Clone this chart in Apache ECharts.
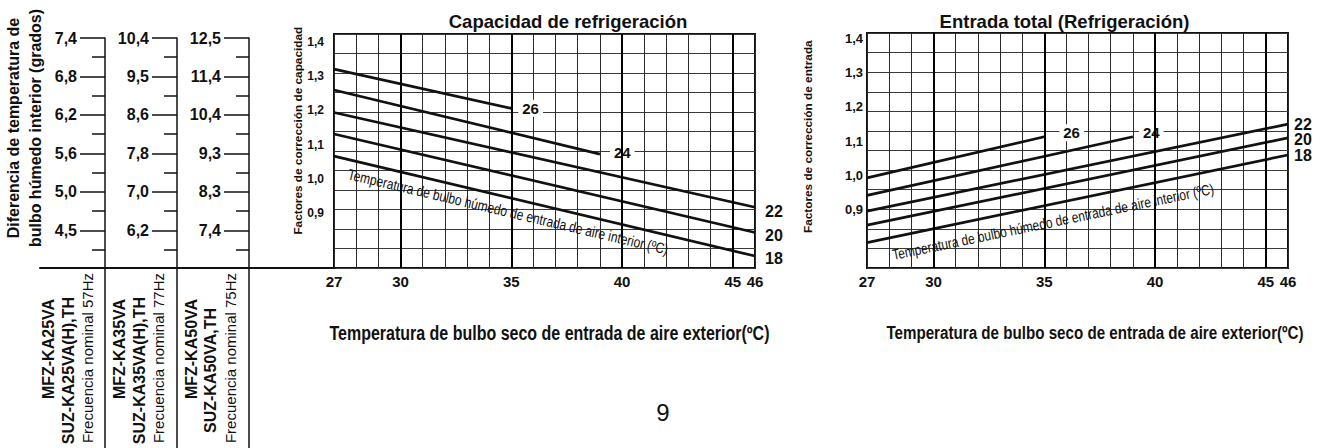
<!DOCTYPE html>
<html><head><meta charset="utf-8">
<script src="https://cdn.jsdelivr.net/npm/echarts@6/dist/echarts.min.js"></script>
<style>html,body{margin:0;padding:0;background:#fff;}#c{width:1328px;height:448px;}</style>
</head><body><div id="c"></div>
<script>
// ---------- data ----------
const xTicks = [27, 30, 35, 40, 45, 46];
const majorX = [30, 35, 40, 45];
const yTicks = [0.9, 1.0, 1.1, 1.2, 1.3, 1.4];
const wbNames = ['26', '24', '22', '20', '18'];
// Capacidad de refrigeración
const cap26 = [[27, 1.321], [35, 1.206]];
const cap24 = [[27, 1.260], [39, 1.072]];
const cap22 = [[27, 1.194], [46, 0.916]];
const cap20 = [[27, 1.131], [46, 0.842]];
const cap18 = [[27, 1.066], [46, 0.773]];
// Entrada total (Refrigeración)
const inp26 = [[27, 0.993], [35, 1.113]];
const inp24 = [[27, 0.942], [39, 1.113]];
const inp22 = [[27, 0.896], [46, 1.150]];
const inp20 = [[27, 0.855], [46, 1.110]];
const inp18 = [[27, 0.804], [46, 1.060]];
// left table
const col1Labels = ['7,4', '6,8', '6,2', '5,6', '5,0', '4,5'];
const col2Labels = ['10,4', '9,5', '8,6', '7,8', '7,0', '6,2'];
const col3Labels = ['12,5', '11,4', '10,4', '9,3', '8,3', '7,4'];
const majorIdx = [0, 1, 2, 3, 4, 5];
const minorIdx = [0.5, 1.5, 2.5, 3.5, 4.5, 5.5];
const colModels = [
  ['MFZ-KA25VA', 'SUZ-KA25VA(H),TH', 'Frecuencia nominal 57Hz'],
  ['MFZ-KA35VA', 'SUZ-KA35VA(H),TH', 'Frecuencia nominal 77Hz'],
  ['MFZ-KA50VA', 'SUZ-KA50VA,TH', 'Frecuencia nominal 75Hz']
];
const titles = ['Capacidad de refrigeración', 'Entrada total (Refrigeración)'];
const yNames = ['Factores de corrección de capacidad', 'Factores de corrección de entrada'];
const xName = 'Temperatura de bulbo seco de entrada de aire exterior(ºC)';
const curveNote = 'Temperatura de bulbo húmedo de entrada de aire interior (ºC)';
const tableTitle = 'Diferencia de temperatura de\nbulbo húmedo interior (grados)';
const pageNumber = '9';

// ---------- styling / layout ----------
const FONT = "'Liberation Sans', Arial, sans-serif";
const INK = '#111';
const NARROW_SCALE = 0.82;
const capSeries = [cap26, cap24, cap22, cap20, cap18];
const inpSeries = [inp26, inp24, inp22, inp20, inp18];
const capLab = [
  {d: 7, off: [0, 0], bg: true, size: 15},
  {d: 10, off: [0, -2], bg: true, size: 15},
  {d: 10, off: [0, 4], size: 16},
  {d: 10, off: [0, 3], size: 16},
  {d: 10, off: [0, 2], size: 16}
];
const inpLab = [
  {d: 15, off: [0, -4], bg: true, size: 15},
  {d: 6, off: [0, -4], bg: true, size: 15},
  {d: 6, off: [0, 0], size: 16},
  {d: 6, off: [0, 2], size: 16},
  {d: 6, off: [0, 1], size: 16}
];

function lineSeries(data, name, xi, yi, lab, withMajor) {
  const s = {
    type: 'line', name: name, data: data, xAxisIndex: xi, yAxisIndex: yi,
    symbol: 'none', silent: true, animation: false, z: 3,
    lineStyle: {color: INK, width: 2.7},
    emphasis: {disabled: true},
    endLabel: {
      show: true, formatter: name, color: INK, fontWeight: 'bold', fontSize: lab.size,
      fontFamily: FONT, distance: lab.d, offset: lab.off,
      backgroundColor: lab.bg ? '#fff' : 'transparent', padding: lab.bg ? [1, 4] : 0
    }
  };
  if (withMajor) {
    s.markLine = {
      silent: true, animation: false, symbol: ['none', 'none'], label: {show: false},
      lineStyle: {color: '#000', width: 2, type: 'solid'},
      data: majorX.map(v => ({xAxis: v}))
    };
  }
  return s;
}

function chartX(gi) {
  return {
    gridIndex: gi, type: 'value', min: 27, max: 46, interval: 1,
    axisLine: {show: false}, axisTick: {show: false},
    splitLine: {show: true, lineStyle: {color: '#2a2a2a', width: 1}},
    axisLabel: {customValues: xTicks, margin: 6, fontSize: 15, fontWeight: 'bold', color: INK, fontFamily: FONT}
  };
}
function chartY(gi, min, max, margin, size) {
  return {
    gridIndex: gi, type: 'value', min: min, max: max,
    splitLine: {show: false}, axisLine: {show: false}, axisTick: {show: false},
    axisLabel: {customValues: yTicks, formatter: v => v.toFixed(1).replace('.', ','),
      margin: margin, fontSize: size, fontWeight: 'bold', color: INK, fontFamily: FONT}
  };
}
function gridY(gi) {
  return {
    gridIndex: gi, type: 'value', min: 0, max: 12, interval: 1, position: 'right',
    axisLine: {show: false}, axisTick: {show: false}, axisLabel: {show: false},
    splitLine: {show: true, lineStyle: {color: '#3a3a3a', width: 1}}
  };
}
function tableMajor(labels, offset) {
  return {
    gridIndex: 2, type: 'value', position: 'left', offset: offset, inverse: true, min: 0, max: 10.65,
    axisLine: {show: true, onZero: false, lineStyle: {color: INK, width: 1.5}},
    axisTick: {show: true, customValues: majorIdx, length: 25, lineStyle: {color: INK, width: 1.5}},
    axisLabel: {customValues: majorIdx, formatter: v => labels[Math.round(v)], margin: 28,
      fontSize: 16, fontWeight: 'bold', color: INK, fontFamily: FONT},
    splitLine: {show: false}
  };
}
function tableMinor(offset) {
  return {
    gridIndex: 2, type: 'value', position: 'left', offset: offset, inverse: true, min: 0, max: 10.65,
    axisLine: {show: false},
    axisTick: {show: true, customValues: minorIdx, length: 13, lineStyle: {color: INK, width: 1.5}},
    axisLabel: {show: false}, splitLine: {show: false}
  };
}

const series = [];
capSeries.forEach((d, i) => series.push(lineSeries(d, wbNames[i], 0, 0, capLab[i], i === 4)));
inpSeries.forEach((d, i) => series.push(lineSeries(d, wbNames[i], 1, 2, inpLab[i], i === 4)));

const graphics = [];
function txt(x, y, rot, text, size, weight, extra, sx) {
  const st = Object.assign({
    text: text, fill: INK, fontSize: size, fontWeight: weight, fontFamily: FONT,
    align: 'center', verticalAlign: 'middle', textAlign: 'center', textVerticalAlign: 'middle'
  }, extra || {});
  graphics.push({type: 'text', x: x, y: y, rotation: rot, scaleX: sx || 1, scaleY: 1, z: 50, silent: true, style: st});
}
const R90 = Math.PI / 2;
txt(24.5, 128, R90, tableTitle, 16, 'bold', {lineHeight: 22});
const modelX = [[48.8, 68.3, 87], [119.7, 139.7, 158.3], [191.7, 210.3, 230.5]];
const modelY = [349, 370.5, 358];
colModels.forEach((lines, c) => {
  lines.forEach((t, l) => {
    txt(modelX[c][l], modelY[l], R90, t, l < 2 ? 16 : 15, l < 2 ? 'bold' : 'normal');
  });
});
txt(297.5, 130.7, R90, yNames[0], 11.8, 'bold');
txt(808.4, 136.7, R90, yNames[1], 11.8, 'bold');
// condensed-looking annotation texts
txt(508, 212, -13.3 * Math.PI / 180, curveNote, 15, 'normal', null, 0.8);
txt(1053, 222, 11.7 * Math.PI / 180, curveNote, 15, 'normal', null, 0.8);
// x-axis names
txt(549.5, 333, 0, xName, 19.5, 'bold', null, NARROW_SCALE);
txt(1095, 333, 0, xName, 18.5, 'bold', null, NARROW_SCALE);
txt(663, 412, 0, pageNumber, 24, 'normal');

const option = {
  animation: false,
  backgroundColor: '#fff',
  textStyle: {fontFamily: FONT, color: INK},
  title: [
    {text: titles[0], left: 568, top: 12, textAlign: 'center', padding: 0,
      textStyle: {fontSize: 18.5, fontWeight: 'bold', color: INK, fontFamily: FONT}},
    {text: titles[1], left: 1064.5, top: 12, textAlign: 'center', padding: 0,
      textStyle: {fontSize: 18.5, fontWeight: 'bold', color: INK, fontFamily: FONT}}
  ],
  grid: [
    {left: 334, top: 34, width: 421, height: 234, show: true, borderColor: INK, borderWidth: 2, backgroundColor: 'transparent', outerBoundsMode: 'none', containLabel: false},
    {left: 867, top: 33, width: 421, height: 235, show: true, borderColor: INK, borderWidth: 2, backgroundColor: 'transparent', outerBoundsMode: 'none', containLabel: false},
    {left: 249, top: 38, width: 2, bottom: 0, outerBoundsMode: 'none', containLabel: false},
    {left: 40, top: 0, width: 294, height: 268, outerBoundsMode: 'none', containLabel: false}
  ],
  xAxis: [
    chartX(0),
    chartX(1),
    {gridIndex: 2, type: 'value', min: 0, max: 1, show: false},
    {gridIndex: 3, type: 'value', min: 0, max: 1, axisLine: {show: true, onZero: false, lineStyle: {color: INK, width: 2}},
      axisTick: {show: false}, axisLabel: {show: false}, splitLine: {show: false}}
  ],
  yAxis: [
    chartY(0, 0.738, 1.424, 10, 12),
    gridY(0),
    chartY(1, 0.730, 1.416, 4, 13),
    gridY(1),
    tableMajor(col3Labels, 0),
    tableMajor(col2Labels, 72),
    tableMajor(col1Labels, 144),
    tableMinor(0),
    tableMinor(72),
    tableMinor(144),
    {gridIndex: 3, type: 'value', min: 0, max: 1, show: false}
  ],
  series: series,
  graphic: {elements: graphics}
};
const chart = echarts.init(document.getElementById('c'), null, {renderer: 'svg'});
chart.setOption(option);
</script>
</body></html>
